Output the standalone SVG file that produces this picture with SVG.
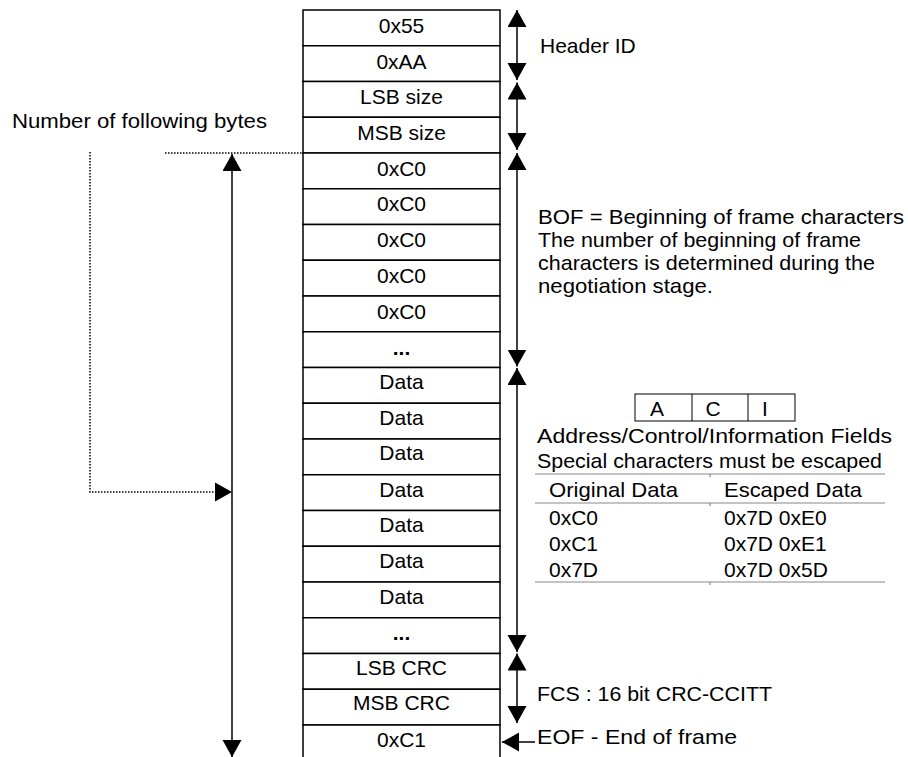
<svg xmlns="http://www.w3.org/2000/svg" width="908" height="757" viewBox="0 0 908 757">
<style>
text{font-family:"Liberation Sans",Arial,sans-serif;font-size:21px;fill:#000}
.c{text-anchor:middle}
.b{font-weight:bold}
.cell{fill:#fff;stroke:#000;stroke-width:1.5}
.arr{stroke:#000;stroke-width:1.5;fill:none}
.dot{stroke:#000;stroke-width:1.5;fill:none;stroke-dasharray:1.5 1.5}
.gl{stroke:#888;stroke-width:1.2;fill:none}
.box{stroke:#000;stroke-width:1;fill:none}
</style>
<defs>
<marker id="ah" markerUnits="userSpaceOnUse" markerWidth="18" markerHeight="20" refX="17" refY="9.5" orient="auto-start-reverse" viewBox="0 0 18 20">
<path d="M0,0 L17,9.5 L0,19 z" fill="#000"/>
</marker>
</defs>
<rect width="908" height="757" fill="#fff"/>

<g id="frame">
<g id="r0"><rect class="cell" x="303" y="10" width="197" height="35.75"/><text class="c" x="401.5" y="33">0x55</text></g>
<g id="r1"><rect class="cell" x="303" y="45.75" width="197" height="35.75"/><text class="c" x="401.5" y="68.5">0xAA</text></g>
<g id="r2"><rect class="cell" x="303" y="81.5" width="197" height="35.75"/><text class="c" x="401.5" y="104">LSB size</text></g>
<g id="r3"><rect class="cell" x="303" y="117.25" width="197" height="35.75"/><text class="c" x="401.5" y="140">MSB size</text></g>
<g id="r4"><rect class="cell" x="303" y="153" width="197" height="35.75"/><text class="c" x="401.5" y="175.5">0xC0</text></g>
<g id="r5"><rect class="cell" x="303" y="188.75" width="197" height="35.75"/><text class="c" x="401.5" y="211">0xC0</text></g>
<g id="r6"><rect class="cell" x="303" y="224.5" width="197" height="35.75"/><text class="c" x="401.5" y="247">0xC0</text></g>
<g id="r7"><rect class="cell" x="303" y="260.25" width="197" height="35.75"/><text class="c" x="401.5" y="282.5">0xC0</text></g>
<g id="r8"><rect class="cell" x="303" y="296" width="197" height="35.75"/><text class="c" x="401.5" y="318.5">0xC0</text></g>
<g id="r9"><rect class="cell" x="303" y="331.75" width="197" height="35.75"/><text class="c b" x="401.5" y="355">...</text></g>
<g id="r10"><rect class="cell" x="303" y="367.5" width="197" height="35.75"/><text class="c" x="401.5" y="389">Data</text></g>
<g id="r11"><rect class="cell" x="303" y="403.25" width="197" height="35.75"/><text class="c" x="401.5" y="425">Data</text></g>
<g id="r12"><rect class="cell" x="303" y="439" width="197" height="35.75"/><text class="c" x="401.5" y="460">Data</text></g>
<g id="r13"><rect class="cell" x="303" y="474.75" width="197" height="35.75"/><text class="c" x="401.5" y="497">Data</text></g>
<g id="r14"><rect class="cell" x="303" y="510.5" width="197" height="35.75"/><text class="c" x="401.5" y="532">Data</text></g>
<g id="r15"><rect class="cell" x="303" y="546.25" width="197" height="35.75"/><text class="c" x="401.5" y="568">Data</text></g>
<g id="r16"><rect class="cell" x="303" y="582" width="197" height="35.75"/><text class="c" x="401.5" y="604">Data</text></g>
<g id="r17"><rect class="cell" x="303" y="617.75" width="197" height="35.75"/><text class="c b" x="401.5" y="640">...</text></g>
<g id="r18"><rect class="cell" x="303" y="653.5" width="197" height="35.75"/><text class="c" x="401.5" y="675">LSB CRC</text></g>
<g id="r19"><rect class="cell" x="303" y="689.25" width="197" height="35.75"/><text class="c" x="401.5" y="710">MSB CRC</text></g>
<g id="r20"><rect class="cell" x="303" y="725" width="197" height="35.75"/><text class="c" x="401.5" y="746.5">0xC1</text></g>
</g>

<g id="connectors">
<line class="arr" x1="517" y1="10" x2="517" y2="80" marker-start="url(#ah)" marker-end="url(#ah)"/>
<line class="arr" x1="517" y1="82.5" x2="517" y2="150" marker-start="url(#ah)" marker-end="url(#ah)"/>
<line class="arr" x1="517" y1="153" x2="517" y2="366.5" marker-start="url(#ah)" marker-end="url(#ah)"/>
<line class="arr" x1="517" y1="368" x2="517" y2="652" marker-start="url(#ah)" marker-end="url(#ah)"/>
<line class="arr" x1="517" y1="653.5" x2="517" y2="723" marker-start="url(#ah)" marker-end="url(#ah)"/>
<line class="arr" x1="535" y1="742" x2="502" y2="742" marker-end="url(#ah)"/>
<line class="arr" x1="232" y1="154" x2="232" y2="757" marker-start="url(#ah)" marker-end="url(#ah)"/>
<line class="dot" x1="165" y1="153" x2="303" y2="153"/>
<polyline class="dot" points="90,152 90,492 216,492"/>
<path d="M215,482.5 L232,492 L215,501.5 z" fill="#000"/>
</g>

<g id="labels">
<text x="12" y="128" textLength="255" lengthAdjust="spacingAndGlyphs">Number of following bytes</text>
<text x="540" y="53">Header ID</text>
<text x="538" y="224" textLength="366" lengthAdjust="spacingAndGlyphs">BOF = Beginning of frame characters</text>
<text x="538" y="247" textLength="323" lengthAdjust="spacingAndGlyphs">The number of beginning of frame</text>
<text x="538" y="270" textLength="337" lengthAdjust="spacingAndGlyphs">characters is determined during  the</text>
<text x="538" y="293" textLength="175" lengthAdjust="spacingAndGlyphs">negotiation stage.</text>
<text x="537" y="701" textLength="235" lengthAdjust="spacingAndGlyphs">FCS : 16 bit CRC-CCITT</text>
<text x="537" y="744" textLength="200" lengthAdjust="spacingAndGlyphs">EOF - End of frame</text>
</g>

<g id="aci">
<rect class="box" x="635" y="394" width="160" height="27"/>
<line class="box" x1="692" y1="394" x2="692" y2="421"/>
<line class="box" x1="748" y1="394" x2="748" y2="421"/>
<text class="c" x="657" y="416">A</text>
<text class="c" x="713" y="416">C</text>
<text class="c" x="765" y="416">I</text>
<text x="537" y="443" textLength="355" lengthAdjust="spacingAndGlyphs">Address/Control/Information Fields</text>
<text x="537" y="468" textLength="345" lengthAdjust="spacingAndGlyphs">Special characters must be escaped</text>
</g>

<g id="escape-table">
<line class="gl" x1="535" y1="474" x2="885" y2="474"/>
<line class="gl" x1="535" y1="503" x2="885" y2="503"/>
<line class="gl" x1="535" y1="582" x2="885" y2="582"/>
<line class="gl" x1="710" y1="474" x2="710" y2="477"/>
<line class="gl" x1="710" y1="503" x2="710" y2="506"/>
<line class="gl" x1="710" y1="582" x2="710" y2="585"/>
<text x="549" y="497" textLength="129" lengthAdjust="spacingAndGlyphs">Original Data</text>
<text x="724" y="497" textLength="138" lengthAdjust="spacingAndGlyphs">Escaped Data</text>
<text x="549" y="525">0xC0</text>
<text x="724" y="525">0x7D 0xE0</text>
<text x="549" y="551">0xC1</text>
<text x="724" y="551">0x7D 0xE1</text>
<text x="549" y="577">0x7D</text>
<text x="724" y="577">0x7D 0x5D</text>
</g>
</svg>
